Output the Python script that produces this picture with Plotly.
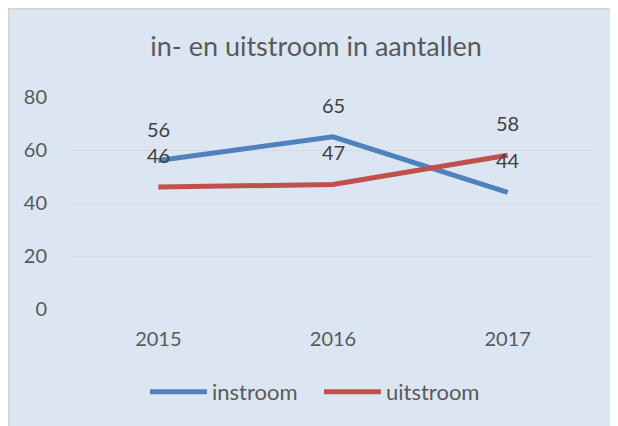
import plotly.graph_objects as go

years = ["2015", "2016", "2017"]
instroom = [56, 65, 44]
uitstroom = [46, 47, 58]
y_ticks = [0, 20, 40, 60, 80]

# page has an 8px body margin; size the figure so it fits the 618x426 window
OFF = 8
W, H = 618 - OFF, 426 - OFF
L, R, T, B = 71 - OFF, W - (595 - OFF), 97 - OFF, H - (309 - OFF)
pw, ph = W - L - R, H - T - B

def px_x(p):
    return (p - OFF - L) / pw

def px_y(p):
    return (H - (p - OFF) - B) / ph

BLUE = "#4F81BD"
RED = "#C0504D"
FONT = "Lato, Carlito, 'Liberation Sans', sans-serif"

fig = go.Figure()
fig.add_trace(go.Scatter(x=years, y=instroom, mode="lines", name="instroom",
                         line=dict(color=BLUE, width=5)))
fig.add_trace(go.Scatter(x=years, y=uitstroom, mode="lines", name="uitstroom",
                         line=dict(color=RED, width=5)))

for series in (instroom, uitstroom):
    for i, y in enumerate(series):
        fig.add_annotation(x=i, y=y, text=str(y), showarrow=False, yshift=32,
                           font=dict(size=20, color="#404040", family=FONT))

fig.add_shape(type="rect", xref="paper", yref="paper", layer="below",
              x0=px_x(OFF + 0.75), x1=px_x(617.5), y0=px_y(430), y1=px_y(OFF + 0.75),
              fillcolor="#DCE6F2", line=dict(color="#D3D3D3", width=1.5))

fig.update_layout(
    width=W, height=H,
    margin=dict(l=L, r=R, t=T, b=B, autoexpand=False),
    paper_bgcolor="#DCE6F2", plot_bgcolor="rgba(0,0,0,0)",
    font=dict(family=FONT, color="#595959"),
    title=dict(text="in- en uitstroom in aantallen", x=(316 - OFF) / W, xref="container",
               xanchor="center", y=1 - (47 - OFF) / H, yanchor="middle",
               font=dict(size=27, color="#595959", family=FONT)),
    showlegend=True,
    legend=dict(orientation="h", xref="paper", x=px_x(319), xanchor="center",
                y=px_y(392), yanchor="middle", itemwidth=57,
                entrywidth=102, entrywidthmode="pixels",
                font=dict(size=22, color="#595959", family=FONT),
                bgcolor="rgba(0,0,0,0)"),
    xaxis=dict(type="category", range=[-0.5, 2.5], showgrid=False, showline=False,
               zeroline=False, tickfont=dict(size=20, color="#595959"),
               ticklabelstandoff=16),
    yaxis=dict(range=[0, 80], tickvals=y_ticks, showgrid=True, gridcolor="#D9D9D9",
               gridwidth=1, zeroline=False, showline=False,
               tickfont=dict(size=20, color="#595959"), ticklabelstandoff=23),
)

fig.write_html("out.html")
